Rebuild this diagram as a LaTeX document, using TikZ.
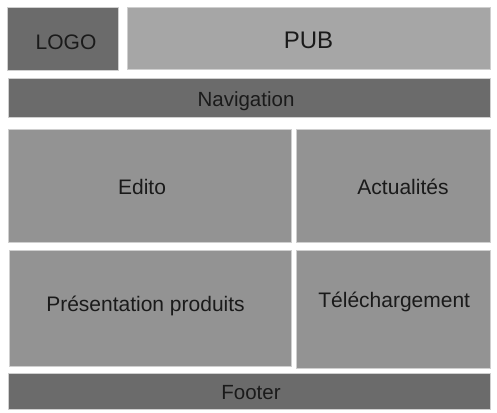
\documentclass[tikz,border=0pt]{standalone}
\usepackage{fontspec}
\setmainfont{Liberation Sans}
\definecolor{darkblock}{HTML}{6B6B6B}
\definecolor{midblock}{HTML}{939393}
\definecolor{lightblock}{HTML}{A6A6A6}
\definecolor{blockedge}{HTML}{CFCFCF}
\definecolor{labelink}{HTML}{1A1A1A}
\begin{document}
\begin{tikzpicture}[x=1pt,y=-1pt,
  block/.style={draw=blockedge,line width=0.8pt},
  label/.style={anchor=base,text=labelink,inner sep=0pt,font=\fontsize{21}{21}\selectfont}]
\useasboundingbox[fill=white] (0,0) rectangle (497,412);
% header row
\draw[block,fill=darkblock] (7.5,7.5) rectangle (118,70.5) coordinate (logoBR);
\draw[block,fill=lightblock] (127,7.5) rectangle (490.5,69.5);
\node[label] (logo) at (66,49) {LOGO};
\node[label,font=\fontsize{24}{24}\selectfont] (pub) at (308.5,48.3) {PUB};
% navigation bar
\draw[block,fill=darkblock] (8.3,78.3) rectangle (490.5,117.7);
\node[label,font=\fontsize{20.5}{20.5}\selectfont] (nav) at (246,106) {Navigation};
% content blocks
\draw[block,fill=midblock] (8.5,129) rectangle (291,242.5);
\draw[block,fill=midblock] (296.5,129.5) rectangle (490.5,242.5);
\draw[block,fill=midblock] (9.3,250.7) rectangle (291,366.7);
\draw[block,fill=midblock] (296.7,250.7) rectangle (490.5,368.3);
\node[label] (edito) at (142,194) {Edito};
\node[label] (actu) at (403,194) {Actualités};
\node[label] (prod) at (145.5,311) {Présentation produits};
\node[label] (dl) at (394.2,307.7) {Téléchargement};
% footer bar
\draw[block,fill=darkblock] (8.3,373.3) rectangle (490.5,409.3);
\node[label,font=\fontsize{20.5}{20.5}\selectfont] (footer) at (251,399) {Footer};
\end{tikzpicture}
\end{document}
